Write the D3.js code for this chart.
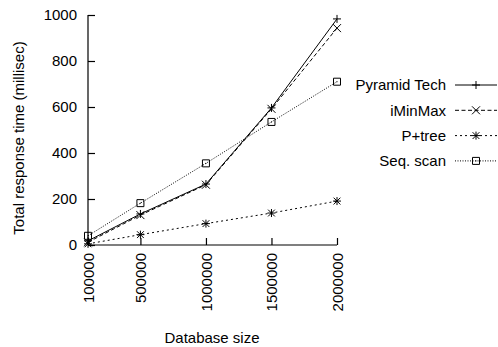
<!DOCTYPE html>
<html>
<head>
<meta charset="utf-8">
<script src="https://cdn.jsdelivr.net/npm/d3@7"></script>
<style>
  html, body { margin: 0; padding: 0; background: #fff; }
  svg { display: block; }
  text { font-family: "Liberation Sans", Arial, Helvetica, sans-serif; font-size: 15px; fill: #000; }
</style>
</head>
<body>
<svg id="chart" width="498" height="347"></svg>
<script>
// Database sizes (x categories) and measured response times (ms)
const sizes = [100000, 500000, 1000000, 1500000, 2000000];
const pyramidTech = [18, 135, 265, 596, 983];
const iMinMax = [12, 130, 262, 592, 943];
const pPlusTree = [5, 45, 93, 139, 191];
const seqScan = [40, 182, 355, 535, 710];
const yTicks = [0, 200, 400, 600, 800, 1000];
const seriesNames = ["Pyramid Tech", "iMinMax", "P+tree", "Seq. scan"];

const series = [
  { name: seriesNames[0], values: pyramidTech, dash: null, marker: "plus" },
  { name: seriesNames[1], values: iMinMax, dash: "4,2.5", marker: "cross" },
  { name: seriesNames[2], values: pPlusTree, dash: "2,3", marker: "star" },
  { name: seriesNames[3], values: seqScan, dash: "1,1.5", marker: "box" }
];

const svg = d3.select("#chart");
const margin = { left: 88, top: 15, right: 161, bottom: 102 };
const W = 498, H = 347;
const x = d3.scaleLinear().domain([100000, 2000000]).range([margin.left, W - margin.right]);
const y = d3.scaleLinear().domain([0, 1000]).range([H - margin.bottom, margin.top]);

// Axes: ticks point inward, labels outside
const yAxis = d3.axisLeft(y).tickValues(yTicks).tickSize(-7).tickPadding(11).tickFormat(d3.format("d"));
const gy = svg.append("g").attr("transform", `translate(${margin.left},0)`).call(yAxis);
gy.select(".domain").attr("d", `M0,${y(0)}V${y(1000)}`);

const xAxis = d3.axisBottom(x).tickValues(sizes).tickSize(-7).tickFormat(d3.format("d"));
const gx = svg.append("g").attr("transform", `translate(0,${y(0)})`).call(xAxis);
gx.select(".domain").attr("d", `M${x(100000)},0H${x(2000000)}`);
gx.selectAll(".tick text")
  .attr("transform", "rotate(-90)")
  .attr("text-anchor", "end")
  .attr("x", -8)
  .attr("y", 0)
  .attr("dy", "0.35em");

svg.selectAll(".tick line, .domain").attr("stroke", "#000").attr("stroke-width", 1.2);
svg.selectAll(".tick text").style("font-size", "15px").attr("fill", "#000");

// Axis titles
svg.append("text")
  .attr("x", 212)
  .attr("y", 343)
  .attr("text-anchor", "middle")
  .text("Database size");

svg.append("text")
  .attr("transform", `translate(24,${(y(0) + y(1000)) / 2 + 8}) rotate(-90)`)
  .attr("text-anchor", "middle")
  .text("Total response time (millisec)");

// Marker drawing helper
function drawMarker(g, cx, cy, type) {
  const s = 4;
  const p = d3.path();
  if (type === "plus" || type === "star") {
    p.moveTo(cx - s, cy); p.lineTo(cx + s, cy);
    p.moveTo(cx, cy - s); p.lineTo(cx, cy + s);
  }
  if (type === "cross" || type === "star") {
    const c = type === "star" ? s * 0.85 : s;
    p.moveTo(cx - c, cy - c); p.lineTo(cx + c, cy + c);
    p.moveTo(cx - c, cy + c); p.lineTo(cx + c, cy - c);
  }
  if (type === "box") {
    p.rect(cx - 3.5, cy - 3.5, 7, 7);
  }
  g.append("path").attr("d", p.toString())
    .attr("fill", "none").attr("stroke", "#000").attr("stroke-width", 1);
  if (type === "box") {
    g.append("rect").attr("x", cx - 0.5).attr("y", cy - 0.5).attr("width", 1).attr("height", 1).attr("fill", "#000");
  }
}

const line = d3.line().x((d, i) => x(sizes[i])).y(d => y(d));
const plot = svg.append("g");

series.forEach(s => {
  plot.append("path")
    .datum(s.values)
    .attr("d", line)
    .attr("fill", "none")
    .attr("stroke", "#000")
    .attr("stroke-width", 1)
    .attr("stroke-dasharray", s.dash);
  s.values.forEach((v, i) => drawMarker(plot, x(sizes[i]), y(v), s.marker));
});

// Legend
const legend = svg.append("g");
series.forEach((s, i) => {
  const ly = 85 + i * 25.3;
  legend.append("text")
    .attr("x", 446).attr("y", ly).attr("dy", "0.35em")
    .attr("text-anchor", "end")
    .text(s.name);
  legend.append("line")
    .attr("x1", 455).attr("x2", 497).attr("y1", ly).attr("y2", ly)
    .attr("stroke", "#000").attr("stroke-width", 1)
    .attr("stroke-dasharray", s.dash);
  drawMarker(legend, 476, ly, s.marker);
});
</script>
</body>
</html>
